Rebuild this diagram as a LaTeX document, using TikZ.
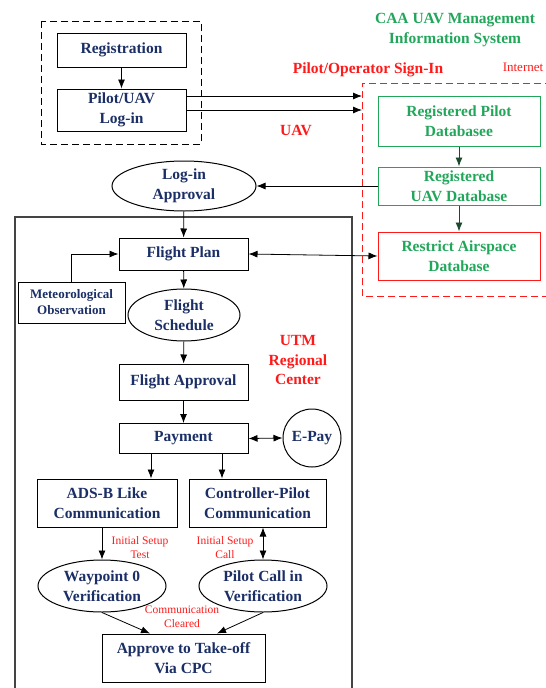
\documentclass[tikz,border=0pt]{standalone}
\usepackage{fontspec}
\setmainfont{Liberation Serif}
\usetikzlibrary{arrows.meta,shapes.geometric}
\definecolor{navy}{HTML}{1B2F66}
\definecolor{cgreen}{HTML}{22A65A}
\definecolor{dgreen}{HTML}{1B4A2C}
\definecolor{cred}{HTML}{FF1A1A}
\definecolor{frame}{HTML}{444444}
\tikzset{
  tip/.style={-{Latex[length=9pt,width=7pt]}},
  dtip/.style={{Latex[length=9pt,width=7pt]}-{Latex[length=9pt,width=7pt]}},
  bigfont/.style={font=\fontsize{15.5}{19.5}\selectfont\bfseries},
  box/.style={draw, line width=1pt, text=navy, bigfont, align=center, inner sep=1pt},
  ell/.style={ellipse, draw, line width=1pt, text=navy, bigfont, align=center, inner sep=-25pt},
  gbox/.style={box, draw=cgreen, text=cgreen},
  rbox/.style={box, draw=cred, text=cgreen},
  lab/.style={text=cred, font=\fontsize{11.5}{14}\selectfont, align=center},
  rtitle/.style={text=cred, bigfont, align=center},
}
\begin{document}
\begin{tikzpicture}[x=1pt,y=-1pt]
\useasboundingbox (0,0) rectangle (546,688);
% frames
\draw[dash pattern=on 7pt off 4pt, line width=1pt] (41,21) rectangle (201,144);
\draw[cred, dash pattern=on 7pt off 4pt, line width=1pt] (552,83) -- (362,83) -- (362,296) -- (552,296);
\draw[frame, line width=1.3pt] (15,695) -- (15,217) -- (352,217) -- (352,695);
% titles
\node[text=cgreen, bigfont, align=center] (caa) at (455,30) {CAA UAV Management\\Information System};
\node[rtitle] (sign) at (368,70) {Pilot/Operator Sign-In};
\node[lab, font=\fontsize{13}{15}\selectfont] (inet) at (523,67) {Internet};
\node[rtitle] (uav) at (296,130) {UAV};
\node[rtitle] (utm) at (298,360) {UTM\\Regional\\Center};
% left nodes
\node[box, minimum width=129pt, minimum height=34pt] (reg) at (121.5,50) {Registration};
\node[box, minimum width=129pt, minimum height=42pt] (login) at (121.5,110) {Pilot/UAV\\Log-in};
% right database nodes
\node[gbox, minimum width=162pt, minimum height=50pt] (pdb) at (459,121) {Registered Pilot\\Databasee};
\node[gbox, minimum width=162pt, minimum height=38pt] (udb) at (459,186) {Registered\\UAV Database};
\node[rbox, minimum width=162pt, minimum height=48pt] (adb) at (459,256) {Restrict Airspace\\Database};
% coordinates on internet boundary
\coordinate (in1) at (362,96);
\coordinate (in2) at (362,110);
% center nodes
\node[ell, minimum width=144pt, minimum height=50pt] (lapp) at (184,186) {Log-in\\Approval};
\node[box, minimum width=129pt, minimum height=32pt] (fp) at (183.5,254) {Flight Plan};
\node[box, minimum width=107pt, minimum height=41pt, font=\fontsize{13}{16}\selectfont\bfseries] (met) at (71.5,302.5) {Meteorological\\Observation};
\node[ell, minimum width=112pt, minimum height=52pt] (fs) at (184,315) {Flight\\Schedule};
\node[box, minimum width=129pt, minimum height=36pt] (fa) at (183.5,382) {Flight Approval};
\node[box, minimum width=129pt, minimum height=30pt] (pay) at (183.5,438.5) {Payment};
\node[circle, draw, line width=1pt, text=navy, bigfont, minimum size=58pt, inner sep=-10pt] (epay) at (312,438) {E-Pay};
\node[box, minimum width=140pt, minimum height=48pt] (ads) at (107,503) {ADS-B Like\\Communication};
\node[box, minimum width=137pt, minimum height=48pt] (cpc) at (257.5,503) {Controller-Pilot\\Communication};
\node[ell, minimum width=128pt, minimum height=52pt] (wp) at (102,586) {Waypoint 0\\Verification};
\node[ell, minimum width=128pt, minimum height=52pt] (pc) at (263,586) {Pilot Call in\\Verification};
\node[box, minimum width=163pt, minimum height=48pt] (take) at (183.5,658) {Approve to Take-off\\Via CPC};
% labels
\node[lab] (l1) at (140,548) {Initial Setup\\Test};
\node[lab] (l2) at (225,548) {Initial Setup\\Call};
\node[lab] (l3) at (182,617) {Communication\\Cleared};
% connectors
\draw[tip, line width=0.8pt] (reg) -- (login);
\draw[tip, line width=0.8pt] (login.east |- in1) -- (in1);
\draw[tip, line width=0.8pt] (login.east |- in2) -- (in2);
\draw[tip, line width=0.9pt, dgreen] (pdb) -- (udb);
\draw[tip, line width=0.9pt, dgreen] (udb) -- (adb);
\draw[tip, line width=0.8pt] (udb.west) -- (lapp.east);
\draw[tip, line width=0.8pt] (lapp) -- (fp);
\draw[dtip, line width=0.8pt] (fp.east) -- (adb.west);
\draw[tip, line width=0.8pt] (met.north) -- (met.north |- fp.west) -- (fp.west);
\draw[tip, line width=0.8pt] (fp) -- (fs);
\draw[tip, line width=0.8pt] (fs) -- (fa);
\draw[tip, line width=0.8pt] (fa) -- (pay);
\draw[dtip, line width=0.8pt] (pay.east) -- (epay.west);
\draw[tip, line width=0.8pt] (pay.south -| 151,0) -- (ads.north -| 151,0);
\draw[tip, line width=0.8pt] (pay.south -| 222,0) -- (cpc.north -| 222,0);
\draw[tip, line width=0.8pt] (ads.south -| wp.north) -- (wp.north);
\draw[dtip, line width=0.8pt] (cpc.south -| pc.north) -- (pc.north);
\draw[tip, line width=0.8pt] (wp.south) -- (take.north -| 150,0);
\draw[tip, line width=0.8pt] (pc.south) -- (take.north -| 217,0);
\end{tikzpicture}
\end{document}
